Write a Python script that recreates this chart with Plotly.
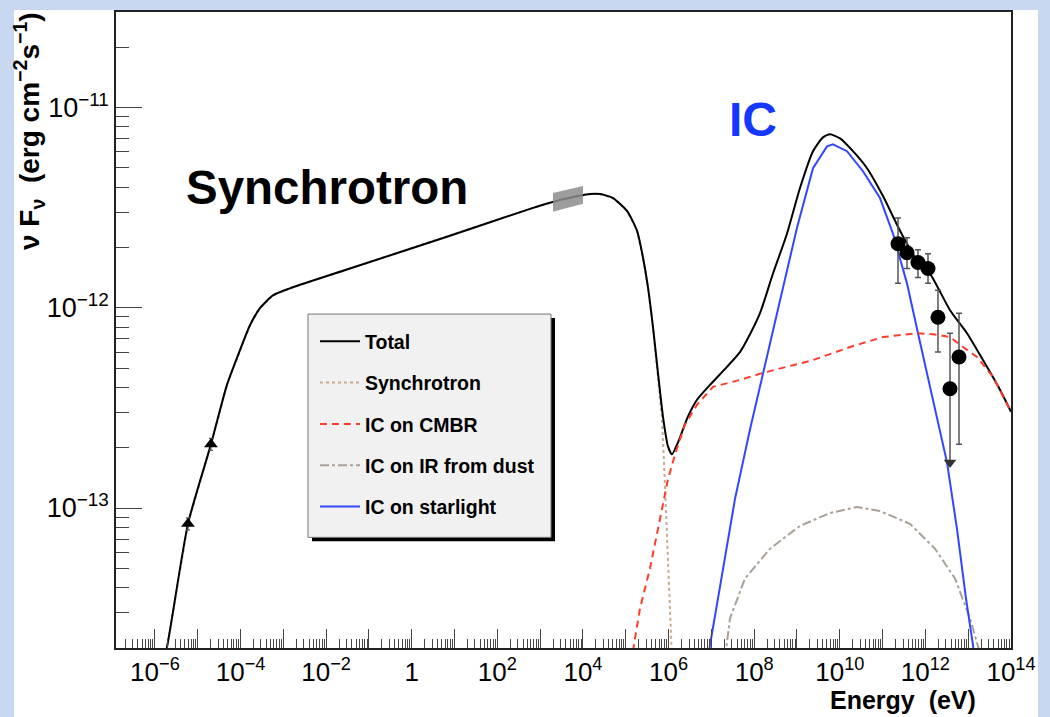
import math
import plotly.graph_objects as go

# ---- model curves: log10(E / eV) and log10(nu F_nu / erg cm^-2 s^-1) ----
total_logE = [-5.80, -5.72, -5.229, -4.692, -4.318, -4.014, -3.780, -3.547, -3.243, -2.846,
              -1.444, 0.893, 2.762, 3.463, 4.164, 4.397, 4.701, 5.028, 5.262, 5.402,
              5.519, 5.636, 5.752, 5.869, 5.986, 6.079, 6.220, 6.453, 6.664, 6.967,
              7.364, 7.668, 7.832, 8.136, 8.439, 8.766, 9.070, 9.374, 9.607, 9.771,
              10.005, 10.308, 10.636, 11.009, 11.407, 11.804, 12.107, 12.575, 12.972,
              13.346, 13.743, 14.0]
total_logF = [-13.75, -13.695, -13.079, -12.682, -12.385, -12.211, -12.087, -12.002, -11.938, -11.903,
              -11.804, -11.640, -11.506, -11.462, -11.432, -11.432, -11.452, -11.516, -11.615, -11.749,
              -11.898, -12.097, -12.325, -12.543, -12.692, -12.732, -12.672, -12.543, -12.459, -12.385,
              -12.295, -12.221, -12.161, -12.027, -11.829, -11.630, -11.402, -11.218, -11.149, -11.134,
              -11.154, -11.218, -11.303, -11.442, -11.615, -11.764, -11.829, -12.012, -12.127,
              -12.261, -12.409, -12.519]

sync_logE = [-5.80, -5.72, -5.229, -4.692, -4.318, -4.014, -3.780, -3.547, -3.243, -2.846,
             -1.444, 0.893, 2.762, 3.463, 4.164, 4.397, 4.701, 5.028, 5.262, 5.402,
             5.519, 5.636, 5.752, 5.846, 5.893, 5.963, 6.033, 6.079]
sync_logF = [-13.75, -13.695, -13.079, -12.682, -12.385, -12.211, -12.087, -12.002, -11.938, -11.903,
             -11.804, -11.640, -11.506, -11.462, -11.432, -11.432, -11.452, -11.516, -11.615, -11.749,
             -11.898, -12.097, -12.335, -12.558, -12.772, -13.104, -13.452, -13.749]

cmb_logE = [5.121, 5.332, 5.565, 5.799, 5.986, 6.150, 6.383, 6.664, 7.037, 7.668,
            8.206, 9.374, 10.238, 11.009, 11.804, 12.178, 12.575, 12.879, 13.206, 13.579, 14.0]
cmb_logF = [-13.774, -13.501, -13.303, -13.055, -12.856, -12.732, -12.583, -12.484, -12.395, -12.360,
            -12.325, -12.261, -12.196, -12.146, -12.127, -12.132, -12.146, -12.196, -12.246, -12.345, -12.519]

dust_logE = [7.318, 7.435, 7.785, 8.369, 9.070, 9.771, 10.402, 10.939, 11.640, 12.224,
             12.692, 13.042, 13.276]
dust_logF = [-13.749, -13.551, -13.352, -13.203, -13.089, -13.025, -12.995, -13.015, -13.079, -13.203,
             -13.352, -13.551, -13.725]

star_logE = [6.921, 6.967, 7.154, 7.551, 7.902, 8.206, 8.603, 9.000, 9.374, 9.701,
             9.841, 10.168, 10.542, 10.939, 11.243, 11.570, 11.827, 12.178, 12.505, 12.738,
             12.949, 13.112, 13.159]
star_logF = [-13.749, -13.685, -13.452, -12.955, -12.608, -12.325, -11.963, -11.600, -11.303, -11.194,
             -11.184, -11.218, -11.318, -11.452, -11.630, -11.878, -12.127, -12.459, -12.772, -13.104,
             -13.452, -13.685, -13.774]

# ---- measurements ----
radio_logE = [-5.229, -4.692]
radio_logF = [-13.079, -12.682]
radio_err = 0.03  # dex

xray_logE = [3.299, 4.0, 4.0, 3.299]
xray_logF = [-11.427, -11.392, -11.481, -11.521]

tev_logE = [11.360, 11.570, 11.827, 12.061, 12.294, 12.785, 12.575]
tev_logF = [-11.680, -11.725, -11.774, -11.804, -12.047, -12.246, -12.404]
tev_logHi = [-11.551, -11.650, -11.710, -11.730, -11.913, -12.027, -12.127]
tev_logLo = [-11.878, -11.804, -11.849, -11.878, -12.221, -12.682, -12.772]

x_decades = list(range(-6, 15))
y_decades = [-13, -12, -11]


def lin(vals):
    return [10 ** v for v in vals]


FONT = "Liberation Sans, Arial, Helvetica, sans-serif"

fig = go.Figure()

fig.add_trace(go.Scatter(x=lin(dust_logE), y=lin(dust_logF), mode="lines",
                         line=dict(color="#aaa096", width=2, dash="dashdot"),
                         name="IC on IR from dust", legendgroup="d", legendrank=4))
fig.add_trace(go.Scatter(x=lin(star_logE), y=lin(star_logF), mode="lines",
                         line=dict(color="#3346ff", width=2),
                         name="IC on starlight", legendgroup="e", legendrank=5))
fig.add_trace(go.Scatter(x=lin(sync_logE), y=lin(sync_logF), mode="lines",
                         line=dict(color="#c8ab8e", width=2, dash="dot"),
                         name="Synchrotron", legendgroup="b", legendrank=2))
fig.add_trace(go.Scatter(x=lin(total_logE), y=lin(total_logF), mode="lines",
                         line=dict(color="black", width=2, shape="spline", smoothing=0.6),
                         name="Total", legendgroup="a", legendrank=1))
fig.add_trace(go.Scatter(x=lin(cmb_logE), y=lin(cmb_logF), mode="lines",
                         line=dict(color="#ff3b2a", width=2, dash="7px,5px"),
                         name="IC on CMBR", legendgroup="c", legendrank=3))

# X-ray band
fig.add_trace(go.Scatter(x=lin(xray_logE), y=lin(xray_logF), mode="lines", fill="toself",
                         fillcolor="rgba(140,140,140,0.85)", line=dict(width=0),
                         showlegend=False, hoverinfo="skip"))

# radio points
fig.add_trace(go.Scatter(
    x=lin(radio_logE), y=lin(radio_logF), mode="markers",
    marker=dict(symbol="triangle-up", size=12, color="black"),
    error_y=dict(type="data",
                 array=[10 ** (v + radio_err) - 10 ** v for v in radio_logF],
                 arrayminus=[10 ** v - 10 ** (v - radio_err) for v in radio_logF],
                 color="#555", thickness=1.2, width=2),
    showlegend=False))

# TeV points
fig.add_trace(go.Scatter(
    x=lin(tev_logE), y=lin(tev_logF), mode="markers",
    marker=dict(symbol="circle", size=15, color="black"),
    error_y=dict(type="data",
                 array=[10 ** h - 10 ** v for h, v in zip(tev_logHi, tev_logF)],
                 arrayminus=[10 ** v - 10 ** l for l, v in zip(tev_logLo, tev_logF)],
                 color="#555", thickness=1.5, width=3),
    showlegend=False))
# arrow head for the lowest point
fig.add_trace(go.Scatter(
    x=[10 ** tev_logE[-1]], y=[10 ** tev_logLo[-1]], mode="markers",
    marker=dict(symbol="triangle-down", size=11, color="#333"),
    showlegend=False))


# ---- axes ----
def sup(e):
    return "10<sup>" + ("\u2212" + str(-e) if e < 0 else str(e)) + "</sup>"


x_text = []
for d in x_decades:
    if d % 2:
        x_text.append("")
    elif d == 0:
        x_text.append("1")
    else:
        x_text.append(sup(d))

x_minor = [k * 10 ** d for d in range(-7, 14) for k in range(2, 10)]
y_minor = [k * 10 ** d for d in range(-14, -10) for k in range(2, 10)]

XL, XR, YB, YT = -6.91, 14.0, 2e-14, 3e-11

fig.update_xaxes(
    type="log", range=[XL, XR],
    tickmode="array", tickvals=[10 ** d for d in x_decades], ticktext=x_text,
    ticks="inside", ticklen=19, tickwidth=1, tickcolor="#444",
    minor=dict(tickmode="array", tickvals=x_minor, ticks="inside", ticklen=9,
               tickwidth=1, tickcolor="#444", showgrid=False),
    showline=True, linecolor="#222", linewidth=1.5, mirror=True,
    showgrid=False, zeroline=False,
    tickfont=dict(family=FONT, size=26, color="black"),
)
fig.update_yaxes(
    type="log", range=[math.log10(YB), math.log10(YT)],
    tickmode="array", tickvals=[10 ** d for d in y_decades], ticktext=[sup(d) for d in y_decades],
    ticks="inside", ticklen=26, tickwidth=1, tickcolor="#444",
    minor=dict(tickmode="array", tickvals=y_minor, ticks="inside", ticklen=13,
               tickwidth=1, tickcolor="#444", showgrid=False),
    showline=True, linecolor="#222", linewidth=1.5, mirror=True,
    showgrid=False, zeroline=False,
    tickfont=dict(family=FONT, size=27, color="black"),
)

# ---- page geometry ----
W, H = 1050, 717
L, R, T, B = 116, 1011, 10, 648


def px(x):
    return (x - L) / (R - L)


def py(y):
    return (B - y) / (B - T)


shapes = [
    # white pad behind the frame
    dict(type="rect", xref="paper", yref="paper", x0=px(14), x1=px(1038), y0=py(730), y1=py(8),
         fillcolor="white", line=dict(width=0), layer="below"),
    # legend shadow and box
    dict(type="rect", xref="paper", yref="paper", x0=px(312), x1=px(555), y0=py(541), y1=py(317),
         fillcolor="black", line=dict(width=0), layer="above"),
    dict(type="rect", xref="paper", yref="paper", x0=px(308), x1=px(551), y0=py(537), y1=py(313),
         fillcolor="#f1f1f1", line=dict(color="#777", width=1), layer="above"),
]

annotations = [
    dict(text="<b>Synchrotron</b>", xref="paper", yref="paper", x=px(184), y=py(186),
         xanchor="left", yanchor="middle", showarrow=False,
         font=dict(family=FONT, size=47.5, color="black")),
    dict(text="<b>IC</b>", xref="paper", yref="paper", x=px(753), y=py(118),
         xanchor="center", yanchor="middle", showarrow=False,
         font=dict(family=FONT, size=48, color="#1438ff")),
    dict(text="<b>Energy  (eV)</b>", xref="paper", yref="paper", x=px(978), y=py(700),
         xanchor="right", yanchor="middle", showarrow=False,
         font=dict(family=FONT, size=25, color="black")),
    dict(text="<b>\u03bd F<sub>\u03bd</sub>  (erg cm<sup>\u22122</sup>s<sup>\u22121</sup>)</b>",
         xref="paper", yref="paper", x=px(29), y=py(8), textangle=-90,
         xanchor="center", yanchor="top", showarrow=False,
         font=dict(family=FONT, size=28, color="black")),
]

fig.update_layout(
    width=W, height=H,
    margin=dict(l=L, r=W - R, t=T, b=H - B),
    paper_bgcolor="#c9d8f1", plot_bgcolor="white",
    shapes=shapes, annotations=annotations,
    showlegend=True,
    legend=dict(x=px(315), y=py(321), xanchor="left", yanchor="top",
                bgcolor="rgba(0,0,0,0)", borderwidth=0, itemwidth=40,
                traceorder="grouped", tracegroupgap=13,
                font=dict(family=FONT, size=19.5, color="black", weight="bold")),
)

fig.write_html("out.html")
